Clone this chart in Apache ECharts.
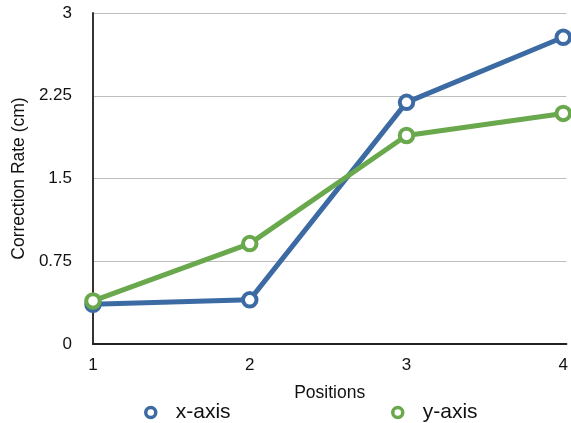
<!DOCTYPE html>
<html>
<head>
<meta charset="utf-8">
<script src="https://cdn.jsdelivr.net/npm/echarts@6/dist/echarts.min.js"></script>
<style>
  html, body { margin: 0; padding: 0; background: #fff; }
  #chart { width: 571px; height: 423px; }
</style>
</head>
<body>
<div id="chart"></div>
<script>
// Positions along the x axis
const positions = [1, 2, 3, 4];
// Correction rate (cm) measured for each axis
const xAxisRates = [0.36, 0.40, 2.19, 2.78];
const yAxisRates = [0.39, 0.91, 1.89, 2.09];
// Value-axis tick labels
const rateTicks = [0, 0.75, 1.5, 2.25, 3];

const BLUE = '#3c6ba4';
const GREEN = '#69a84c';
const FONT = '"Liberation Sans", Arial, Helvetica, sans-serif';

const chart = echarts.init(document.getElementById('chart'), null, { renderer: 'canvas' });

function makeSeries(name, rates, color) {
  return {
    name: name,
    type: 'line',
    data: positions.map(function (p, i) { return [p, rates[i]]; }),
    symbol: 'circle',
    symbolSize: 13.5,
    lineStyle: { color: color, width: 5 },
    itemStyle: { color: '#ffffff', borderColor: color, borderWidth: 4 },
    emphasis: { disabled: true },
    z: 3
  };
}

function makeLegend(name, left) {
  return {
    data: [name],
    left: left,
    top: 402,
    padding: 0,
    icon: 'circle',
    itemWidth: 10,
    itemHeight: 10,
    itemGap: 0,
    selectedMode: false,
    itemStyle: { borderWidth: 3.5 },
    textStyle: { fontFamily: FONT, fontSize: 21, color: '#111', padding: [0, 0, 0, 15] }
  };
}

chart.setOption({
  animation: false,
  backgroundColor: '#ffffff',
  grid: { left: 93, right: 0, top: 13, bottom: 79, containLabel: false },
  legend: [makeLegend('x-axis', 144), makeLegend('y-axis', 391)],
  xAxis: {
    type: 'value',
    min: positions[0],
    max: 4.02,
    interval: 1,
    name: 'Positions',
    nameLocation: 'middle',
    nameGap: 40,
    nameTextStyle: { fontFamily: FONT, fontSize: 17.5, color: '#111' },
    axisLine: { lineStyle: { color: '#222', width: 2 } },
    axisTick: { show: false },
    axisLabel: {
      fontFamily: FONT, fontSize: 17, color: '#111', margin: 13,
      showMaxLabel: false,
      formatter: function (v) { return Number.isInteger(v) ? String(v) : ''; }
    },
    splitLine: { show: false }
  },
  yAxis: {
    type: 'value',
    min: rateTicks[0],
    max: rateTicks[rateTicks.length - 1],
    interval: rateTicks[1] - rateTicks[0],
    name: 'Correction Rate (cm)',
    nameLocation: 'middle',
    nameGap: 63,
    nameTextStyle: { fontFamily: FONT, fontSize: 17.5, color: '#111' },
    axisLine: { show: true, lineStyle: { color: '#333', width: 2 } },
    axisTick: { show: false },
    axisLabel: {
      fontFamily: FONT, fontSize: 17, color: '#111', margin: 21,
      formatter: function (v) { return String(v); }
    },
    splitLine: { show: true, lineStyle: { color: '#bdbdbd', width: 1 } }
  },
  series: [
    makeSeries('x-axis', xAxisRates, BLUE),
    makeSeries('y-axis', yAxisRates, GREEN)
  ]
});
</script>
</body>
</html>
